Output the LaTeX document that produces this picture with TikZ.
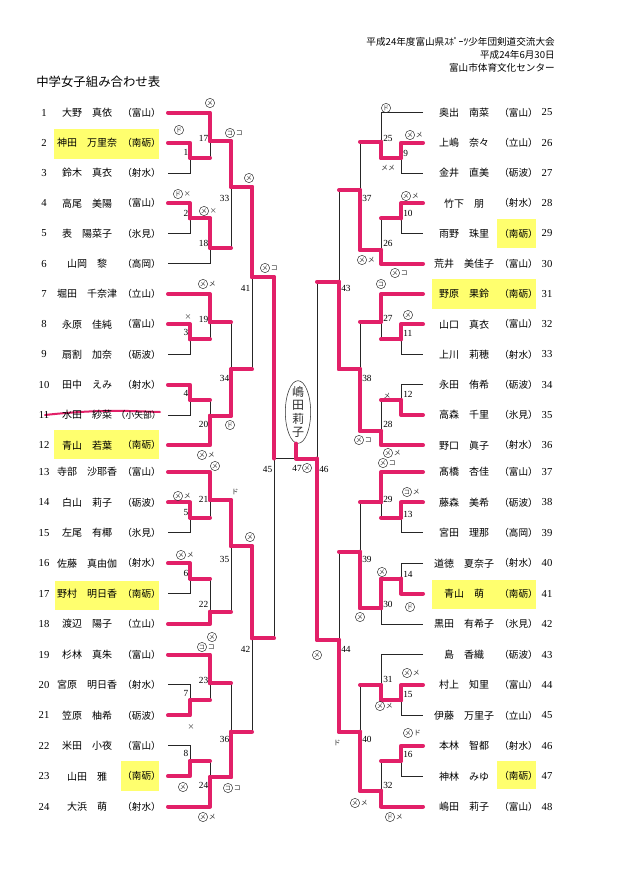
\documentclass[tikz,border=0pt]{standalone}
\usepackage{fontspec}
\setmainfont{Liberation Serif}
\newfontfamily\jp{Noto Sans CJK JP}
\usetikzlibrary{shapes.geometric}
\definecolor{hl}{RGB}{255,255,110}
\definecolor{mk}{RGB}{226,32,104}
\definecolor{ink}{RGB}{45,45,45}
\tikzset{
 ln/.style={line width=0.7pt, draw=black!85},
 pk/.style={line width=3pt, draw=mk, line join=round, line cap=round},
 nm/.style={font=\jp\fontsize{7.5}{8}\selectfont, inner sep=0pt},
 sc/.style={font=\jp\fontsize{7.2}{8}\selectfont, inner sep=0pt, anchor=east},
 num/.style={font=\fontsize{8}{9}\selectfont, inner sep=0pt},
 lbl/.style={font=\fontsize{7}{8}\selectfont, inner sep=0pt},
 ann/.style={circle, draw=ink, line width=0.35pt, minimum size=7pt, inner sep=0pt, font=\jp\fontsize{4.6}{5}\selectfont, text=ink},
 anntxt/.style={inner sep=0pt, font=\jp\fontsize{5.2}{5}\selectfont, text=ink},
}
\newcommand\Ann[5]{\node[ann] (#1) at (#2,#3) {#4}; \node[anntxt, anchor=west] (#1t) at ([xshift=0.5pt]#1.east) {#5};}
\begin{document}
\begin{tikzpicture}[x=0.75pt,y=-0.75pt]
\fill[white] (0,0) rectangle (621,875);
\useasboundingbox (0,0) rectangle (621,875);

% header
\node[font=\jp\fontsize{7.2}{8}\selectfont, anchor=east, inner sep=0pt] (h1) at (555,42) {平成24年度富山県ｽﾎﾟｰﾂ少年団剣道交流大会};
\node[font=\jp\fontsize{7.2}{8}\selectfont, anchor=east, inner sep=0pt] (h2) at (555,55) {平成24年6月30日};
\node[font=\jp\fontsize{7.2}{8}\selectfont, anchor=east, inner sep=0pt] (h3) at (555,68) {富山市体育文化センター};
\node[font=\jp\fontsize{9.3}{10}\selectfont, anchor=west, inner sep=0pt] (title) at (36,82) {中学女子組み合わせ表};

% yellow highlights
\fill[hl] (54,129) rectangle (159,159);
\fill[hl] (54,430) rectangle (159,459);
\fill[hl] (55,581) rectangle (159,610);
\fill[hl] (121,761) rectangle (159,791);
\fill[hl] (497,219) rectangle (536,248);
\fill[hl] (432,279) rectangle (536,309);
\fill[hl] (432,580) rectangle (536,609);
\fill[hl] (497,761) rectangle (536,789);

% player line ends
\foreach \j in {1,...,24}{
  \pgfmathsetmacro\yy{ifthenelse(\j<13, 112.5+30.25*(\j-1), 472+30.42*(\j-13))}
  \pgfmathtruncatemacro\rr{\j+24}
  \coordinate (P\j) at (168,\yy);
  \coordinate (P\rr) at (423,\yy);
}

% match points
\coordinate (M1) at (190,157.9); \coordinate (M2) at (190,218.4);
\coordinate (M3) at (190,339.4); \coordinate (M4) at (190,399.9);
\coordinate (M5) at (190,517.6); \coordinate (M6) at (190,578.5);
\coordinate (M7) at (190,700.2); \coordinate (M8) at (190,761.0);
\coordinate (M9) at (401,157.9); \coordinate (M10) at (401,218.4);
\coordinate (M11) at (401,339.4); \coordinate (M12) at (401,399.9);
\coordinate (M13) at (401,517.6); \coordinate (M14) at (401,578.5);
\coordinate (M15) at (401,700.2); \coordinate (M16) at (401,761.0);
\coordinate (M17) at (210,141); \coordinate (M18) at (210,248);
\coordinate (M19) at (210,322.3); \coordinate (M20) at (210,415.7);
\coordinate (M21) at (210,500); \coordinate (M22) at (210,611.7);
\coordinate (M23) at (210,683.3); \coordinate (M24) at (210,777.3);
\coordinate (M25) at (381,141.7); \coordinate (M26) at (381,250);
\coordinate (M27) at (381,321.7); \coordinate (M28) at (381,431);
\coordinate (M29) at (381,502.3); \coordinate (M30) at (381,608.3);
\coordinate (M31) at (381,685); \coordinate (M32) at (381,790.7);
\coordinate (M33) at (231,186.7); \coordinate (M34) at (231,369.3);
\coordinate (M35) at (231,546); \coordinate (M36) at (231,731.7);
\coordinate (M37) at (360,190); \coordinate (M38) at (360,369.3);
\coordinate (M39) at (360,551.7); \coordinate (M40) at (360,731.7);
\coordinate (M41) at (252,277); \coordinate (M42) at (252,638.3);
\coordinate (M43) at (339,281.7); \coordinate (M44) at (339,640);
\coordinate (M45) at (274,458.5); \coordinate (M46) at (317,458.5);
\coordinate (C47) at (296,458.5);

% black bracket
\foreach \a/\b/\k in {P2/P3/1,P4/P5/2,P8/P9/3,P10/P11/4,P14/P15/5,P16/P17/6,P20/P21/7,P22/P23/8,
  P1/M1/17,M2/P6/18,P7/M3/19,M4/P12/20,P13/M5/21,M6/P18/22,P19/M7/23,M8/P24/24,
  M17/M18/33,M19/M20/34,M21/M22/35,M23/M24/36,M33/M34/41,M35/M36/42,M41/M42/45,
  P26/P27/9,P28/P29/10,P32/P33/11,P34/P35/12,P38/P39/13,P40/P41/14,P44/P45/15,P46/P47/16,
  P25/M9/25,M10/P30/26,P31/M11/27,M12/P36/28,P37/M13/29,M14/P42/30,P43/M15/31,M16/P48/32,
  M25/M26/37,M27/M28/38,M29/M30/39,M31/M32/40,M37/M38/43,M39/M40/44,M43/M44/46}
  {\draw[ln] (\a) -- (\a -| M\k) -- (\b -| M\k) -- (\b);}
\draw[ln] (M45) -- (M46);

% pink: outputs
\foreach \k/\n in {1/17,2/18,3/19,4/20,5/21,6/22,7/23,8/24,17/33,18/33,19/34,20/34,21/35,22/35,23/36,24/36,33/41,34/41,35/42,36/42,41/45,42/45,
  9/25,10/26,11/27,12/28,13/29,14/30,15/31,16/32,25/37,26/37,27/38,28/38,29/39,30/39,31/40,32/40,37/43,38/43,39/44,40/44,43/46,44/46}
  {\draw[pk] (M\k) -- (M\k -| M\n);}
% pink: winners
\foreach \w/\k in {P2/1,P4/2,P8/3,P10/4,P14/5,P16/6,P21/7,P23/8,P1/17,M2/18,P7/19,P12/20,P13/21,P18/22,P19/23,P24/24,M17/33,M20/34,M21/35,M24/36,M33/41,M35/42,M41/45,
  P26/9,P28/10,P32/11,P35/12,P38/13,P41/14,P44/15,P46/16,M9/25,P30/26,P31/27,P36/28,P37/29,M14/30,M15/31,P48/32,M26/37,M28/38,M30/39,M32/40,M38/43,M40/44,M44/46}
  {\draw[pk] (\w) -- (\w -| M\k) -- (M\k);}

% champion oval
\node[ellipse, draw=ink, line width=0.4pt, minimum width=19pt, minimum height=47pt, inner sep=0pt] (oval) at (298,412) {};
\node[font=\jp\fontsize{9}{10}\selectfont, align=center, inner sep=0pt, text=ink] (ovaltxt) at (298,412) {嶋\\田\\莉\\子};
\draw[pk] (M46) -- (C47) -- (C47 |- oval.south);

% strike-through of row 11
\draw[mk, line width=1.5pt, line cap=round] (45,415) .. controls (100,409) and (130,411) .. (160,412);

% left players
\foreach \j/\na/\gi/\sch in {1/大野/真依/富山,2/神田/万里奈/南砺,3/鈴木/真衣/射水,4/高尾/美陽/富山,5/表/陽菜子/氷見,6/山岡/黎/高岡,
  7/堀田/千奈津/立山,8/永原/佳純/富山,9/扇割/加奈/砺波,10/田中/えみ/射水,11/水田/紗菜/{\fontsize{6.6}{7}\selectfont 小矢部},12/青山/若葉/南砺,
  13/寺部/沙耶香/富山,14/白山/莉子/砺波,15/左尾/有椰/氷見,16/佐藤/真由伽/射水,17/野村/明日香/南砺,18/渡辺/陽子/立山,
  19/杉林/真朱/富山,20/宮原/明日香/射水,21/笠原/柚希/砺波,22/米田/小夜/富山,23/山田/雅/南砺,24/大浜/萌/射水}{
  \pgfmathsetmacro\yy{ifthenelse(\j<13, 112.5+30.25*(\j-1), 472+30.42*(\j-13))}
  \node[num] (k\j) at (44,\yy) {\j};
  \node[nm] (n\j) at (87,\yy) {\na　\gi};
  \node[sc] (s\j) at (161,\yy) {（\sch）};
}
% right players
\foreach \j/\na/\gi/\sch in {25/奥出/南菜/富山,26/上嶋/奈々/立山,27/金井/直美/砺波,28/竹下/朋/射水,29/雨野/珠里/南砺,30/荒井/美佳子/富山,
  31/野原/果鈴/南砺,32/山口/真衣/富山,33/上川/莉穂/射水,34/永田/侑希/砺波,35/高森/千里/氷見,36/野口/眞子/射水,
  37/髙橋/杏佳/富山,38/藤森/美希/砺波,39/宮田/理那/高岡,40/道徳/夏奈子/射水,41/青山/萌/南砺,42/黒田/有希子/氷見,
  43/島/香織/砺波,44/村上/知里/富山,45/伊藤/万里子/立山,46/本林/智都/射水,47/神林/みゆ/南砺,48/嶋田/莉子/富山}{
  \pgfmathsetmacro\yy{ifthenelse(\j<37, 112.5+30.25*(\j-25), 472+30.42*(\j-37))}
  \node[num] (k\j) at (547,\yy) {\j};
  \node[nm] (n\j) at (464,\yy) {\na　\gi};
  \node[sc] (s\j) at (538,\yy) {（\sch）};
}

% match numbers, left
\foreach \t/\x/\y in {1/188.5/152,2/188.5/213,3/188.5/332,4/188.5/393,5/188.5/512,6/188.5/573,7/188.5/693,8/188.5/753,
  17/208.5/138,18/208.5/243,19/208.5/319,20/208.5/424,21/208.5/499,22/208.5/604,23/208.5/680,24/208.5/785,
  33/229.5/198,34/229.5/378,35/229.5/559,36/229.5/739,41/250.5/288,42/250.5/649,45/272.5/469}
  {\node[lbl, anchor=east] (g\t) at (\x,\y) {\t};}
% match numbers, right
\foreach \t/\x/\y in {9/403/153,10/403/213,11/403/333,12/403/394,13/403/514,14/403/574,15/403/694,16/403/754,
  25/383/138,26/383/243,27/383/318,28/383/424,29/383/499,30/383/604,31/383/679,32/383/785,
  37/362/198,38/362/378,39/362/559,40/362/739,43/341/288,44/341/649,46/319/469}
  {\node[lbl, anchor=west] (g\t) at (\x,\y) {\t};}
\node[lbl] (g47) at (297,468) {47};

% handwritten marks, left
\Ann{a1}{210}{103}{メ}{}
\Ann{a2}{179}{130}{ド}{}
\Ann{a3}{230}{133}{コ}{コ}
\Ann{a4}{249}{178}{メ}{}
\Ann{a5}{178}{194}{ド}{×}
\Ann{a6}{204}{211}{メ}{×}
\Ann{a7}{265}{268}{メ}{コ}
\Ann{a8}{203}{284}{メ}{メ}
\node[anntxt] (a9) at (188,317) {×};
\Ann{a10}{230}{425}{ド}{}
\Ann{a11}{202}{455}{メ}{メ}
\Ann{a12}{215}{466}{メ}{}
\Ann{a13}{178}{496}{メ}{メ}
\node[anntxt] (a14) at (235,492) {ド};
\Ann{a15}{250}{537}{メ}{}
\Ann{a16}{181}{555}{メ}{メ}
\Ann{a17}{212}{637}{メ}{}
\Ann{a18}{202}{647}{コ}{コ}
\node[anntxt] (a19) at (191,727) {×};
\Ann{a20}{183}{787}{メ}{}
\Ann{a21}{228}{788}{コ}{コ}
\Ann{a22}{203}{817}{メ}{メ}
% handwritten marks, right
\Ann{b1}{386}{108}{ド}{}
\Ann{b2}{410}{135}{メ}{メ}
\node[anntxt] (b3) at (388,168) {メメ};
\Ann{b4}{406}{196}{メ}{メ}
\Ann{b5}{362}{260}{メ}{メ}
\Ann{b6}{395}{273}{メ}{コ}
\Ann{b7}{381}{284}{コ}{}
\Ann{b8}{408}{315}{メ}{}
\node[anntxt] (b9) at (387,396) {メ};
\Ann{b10}{359}{440}{メ}{コ}
\Ann{b11}{388}{453}{メ}{メ}
\Ann{b12}{383}{463}{メ}{コ}
\Ann{b13}{407}{492}{コ}{メ}
\Ann{b14}{307}{468}{メ}{}
\Ann{b15}{382}{572}{メ}{}
\Ann{b16}{410}{607}{ド}{}
\Ann{b17}{360}{617}{メ}{}
\Ann{b18}{317}{655}{メ}{}
\Ann{b19}{407}{673}{メ}{メ}
\Ann{b20}{380}{706}{メ}{メ}
\node[anntxt] (b21) at (337,743) {ド};
\Ann{b22}{408}{733}{メ}{ド}
\Ann{b23}{355}{803}{メ}{メ}
\Ann{b24}{390}{817}{ド}{メ}
\end{tikzpicture}
\end{document}
